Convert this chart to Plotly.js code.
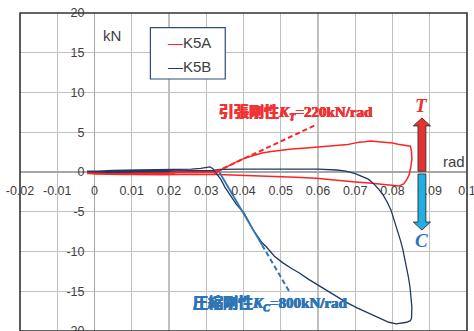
<!DOCTYPE html>
<html>
<head>
<meta charset="utf-8">
<script src="https://cdn.plot.ly/plotly-3.0.1.min.js"></script>
<style>
  html, body { margin: 0; padding: 0; background: #fff; }
  #chart { width: 474px; height: 331px; }
</style>
</head>
<body>
<div id="chart"></div>
<script>
// Rotation (rad) vs. axial force (kN), specimen K5A
const xK5A = [-0.002, 0.004, 0.010, 0.0105, 0.005, 0.000, -0.002,
  0.008, 0.015, 0.021, 0.0215, 0.015, 0.008, 0.000, -0.0015,
  0.008, 0.016, 0.024, 0.030, 0.0325, 0.0322, 0.026, 0.018, 0.010, 0.002, 0.010, 0.020, 0.028, 0.033,
  0.0345, 0.036, 0.0375, 0.039, 0.041, 0.043, 0.045, 0.047, 0.050, 0.053, 0.056, 0.059, 0.062, 0.0645,
  0.066, 0.068, 0.0695, 0.071, 0.0725, 0.074, 0.0755, 0.077, 0.0785, 0.080, 0.0815, 0.083, 0.0843,
  0.0848, 0.0851, 0.0852, 0.0849, 0.0845, 0.0838, 0.083, 0.0818,
  0.080, 0.0765, 0.073, 0.070, 0.066, 0.0595, 0.054, 0.048, 0.043, 0.039, 0.0355, 0.033,
  0.026, 0.018, 0.010, 0.003, -0.002];
const yK5A = [-0.1, -0.05, 0.0, -0.2, -0.2, -0.25, -0.2,
  -0.05, 0.0, 0.05, -0.25, -0.3, -0.3, -0.25, -0.15,
  -0.05, 0.0, 0.05, 0.1, 0.05, -0.25, -0.3, -0.35, -0.3, -0.25, -0.15, -0.1, -0.05, 0.0,
  0.4, 0.8, 1.15, 1.5, 1.85, 2.15, 2.4, 2.55, 2.75, 2.9, 3.0, 3.1, 3.2, 3.25,
  3.35, 3.45, 3.6, 3.75, 3.8, 3.9, 3.85, 3.8, 3.7, 3.65, 3.5, 3.4, 3.3,
  3.25, 2.6, 1.6, 0.6, -0.3, -1.0, -1.5, -1.75,
  -1.65, -1.5, -1.35, -1.25, -1.05, -0.8, -0.65, -0.55, -0.45, -0.4, -0.35, -0.3,
  -0.3, -0.3, -0.3, -0.25, -0.2];

// Rotation (rad) vs. axial force (kN), specimen K5B
const xK5B = [-0.002, 0.004, 0.0095, 0.0100, 0.004, -0.001,
  0.006, 0.012, 0.019, 0.0215, 0.020, 0.012, 0.004, -0.002,
  0.005, 0.012, 0.020, 0.026, 0.0285, 0.0300, 0.0310, 0.0318, 0.0325,
  0.034, 0.035, 0.0365, 0.038, 0.0402, 0.0425, 0.0448, 0.0461, 0.0483, 0.0505,
  0.0528, 0.055, 0.0575, 0.0603, 0.063, 0.0655, 0.0676, 0.0705, 0.0737, 0.0765,
  0.079, 0.081, 0.0825, 0.0838, 0.0848, 0.0851,
  0.0852, 0.0850, 0.0847, 0.0843, 0.0838, 0.0833, 0.0828, 0.0822, 0.0815, 0.081,
  0.0803, 0.0796, 0.0786, 0.0775, 0.0762, 0.0748, 0.0735, 0.072, 0.070, 0.0675,
  0.065, 0.060, 0.055, 0.050, 0.045, 0.040, 0.036, 0.0335, 0.032, 0.026,
  0.018, 0.010, 0.003, -0.002];
const yK5B = [0.1, 0.1, 0.2, -0.05, -0.05, 0.05,
  0.15, 0.2, 0.3, 0.3, 0.05, 0.0, 0.0, 0.05,
  0.2, 0.25, 0.3, 0.35, 0.45, 0.6, 0.65, 0.4, 0.0,
  -1.0, -1.9, -3.0, -4.0, -5.2, -7.2, -8.8, -9.4, -10.6, -11.4,
  -12.1, -12.7, -13.5, -14.3, -15.0, -15.8, -16.4, -17.1, -17.8, -18.4,
  -18.9, -19.1, -19.0, -18.9, -18.7, -18.4,
  -17.0, -15.5, -14.5, -13.3, -12.0, -10.8, -9.8, -8.7, -7.6, -6.7,
  -5.7, -4.8, -3.8, -2.9, -2.1, -1.4, -0.9, -0.6, -0.2, 0.1,
  0.25, 0.35, 0.38, 0.38, 0.37, 0.36, 0.35, 0.33, 0.2, 0.15,
  0.1, 0.05, 0.05, 0.05];

// Initial stiffness lines (kN/rad) and their extents (rad)
const kTension = 220;
const kCompression = 800;
const tensionLine = { x0: 0.0325, x1: 0.059 };
const compressionLine = { x0: 0.0335, xSolid: 0.045, x1: 0.0525 };

// Axis ticks
const xTickVals = [-0.02, -0.01, 0, 0.01, 0.02, 0.03, 0.04, 0.05, 0.06, 0.07, 0.08, 0.09, 0.1];
const xTickText = ['-0.02', '-0.01', '0', '0.01', '0.02', '0.03', '0.04', '0.05', '0.06', '0.07', '0.08', '0.09', '0.1'];
const yTickVals = [-20, -15, -10, -5, 0, 5, 10, 15, 20];
const yTickText = ['-20', '-15', '-10', '-5', '0', '5', '10', '15', '20'];

const RED = '#ff2424';
const NAVY = '#1f3864';
const BLUE = '#2e75b6';
const TEXT = '#404040';
const LABEL_RED = '#f03232';

const lineThrough = (k, x0, xs) => xs.map(x => k * (x - x0));

const traces = [
  { name: 'K5A', x: xK5A, y: yK5A, mode: 'lines', line: { color: RED, width: 1.5 } },
  { name: 'K5B', x: xK5B, y: yK5B, mode: 'lines', line: { color: NAVY, width: 1.3 } },
  { name: 'K_T', x: [tensionLine.x0, tensionLine.x1],
    y: lineThrough(kTension, tensionLine.x0, [tensionLine.x0, tensionLine.x1]),
    mode: 'lines', line: { color: RED, width: 2, dash: '5px,3px' } },
  { name: 'K_C solid', x: [compressionLine.x0, compressionLine.xSolid],
    y: lineThrough(-kCompression, compressionLine.x0, [compressionLine.x0, compressionLine.xSolid]),
    mode: 'lines', line: { color: BLUE, width: 1.8 } },
  { name: 'K_C', x: [compressionLine.xSolid, compressionLine.x1],
    y: lineThrough(-kCompression, compressionLine.x0, [compressionLine.xSolid, compressionLine.x1]),
    mode: 'lines', line: { color: BLUE, width: 2, dash: '5px,3px' } }
];

// Tension / compression direction arrows
const arrowX = 0.0879, shaftHalf = 0.00105, headHalf = 0.0023;
function arrowPath(yStart, yHead, yTip) {
  return `M${arrowX - shaftHalf},${yStart} L${arrowX - shaftHalf},${yHead} L${arrowX - headHalf},${yHead} ` +
         `L${arrowX},${yTip} L${arrowX + headHalf},${yHead} L${arrowX + shaftHalf},${yHead} L${arrowX + shaftHalf},${yStart} Z`;
}

const legendBox = { x0: 0.0150, x1: 0.0351, y0: 11.7, y1: 18.15 };
const legendItems = [
  { label: 'K5A', color: RED, y: 16.35 },
  { label: 'K5B', color: NAVY, y: 13.3 }
];

const shapes = [
  { type: 'path', xref: 'x', yref: 'y', path: arrowPath(0.1, 5.8, 6.8),
    fillcolor: '#e8312f', line: { color: '#3a3a3a', width: 1 } },
  { type: 'path', xref: 'x', yref: 'y', path: arrowPath(-0.25, -6.3, -7.3),
    fillcolor: '#1fb0e6', line: { color: '#3a3a3a', width: 1 } },
  { type: 'rect', xref: 'x', yref: 'y', x0: legendBox.x0, x1: legendBox.x1, y0: legendBox.y0, y1: legendBox.y1,
    fillcolor: '#ffffff', line: { color: '#2f4b7c', width: 1.2 } },
  { type: 'rect', xref: 'paper', yref: 'paper', x0: 0, x1: 1, y0: 0, y1: 1,
    line: { color: '#333333', width: 1.6 }, layer: 'above' }
];

const serifCJK = '"Liberation Serif", "Noto Sans CJK JP", serif';
const sans = '"Liberation Sans", Arial, sans-serif';
// heavier strokes for the stiffness labels
const heavy = c => `0.5px 0 0 ${c}, -0.4px 0 0 ${c}, 0 0.4px 0 ${c}`;

const annotations = [
  { x: 0.0048, y: 17.2, xref: 'x', yref: 'y', text: 'kN', showarrow: false, xanchor: 'center',
    font: { family: sans, size: 15, color: TEXT } },
  { x: 0.0965, y: 1.3, xref: 'x', yref: 'y', text: 'rad', showarrow: false, xanchor: 'center',
    font: { family: sans, size: 15, color: TEXT } },
  { x: 0.0540, y: 7.4, xref: 'x', yref: 'y', showarrow: false, xanchor: 'center',
    text: '引張剛性<i>K<sub>T</sub></i>=220kN/rad',
    font: { family: serifCJK, size: 15, color: LABEL_RED, weight: 700, shadow: heavy(LABEL_RED) } },
  { x: 0.0472, y: -16.6, xref: 'x', yref: 'y', showarrow: false, xanchor: 'center',
    text: '圧縮剛性<i>K<sub>C</sub></i>=800kN/rad',
    font: { family: serifCJK, size: 15, color: BLUE, weight: 700, shadow: heavy(BLUE) } },
  { x: arrowX, y: 8.4, xref: 'x', yref: 'y', showarrow: false, xanchor: 'center',
    text: '<i>T</i>', font: { family: serifCJK, size: 19, color: '#e8312f', weight: 700 } },
  { x: arrowX, y: -8.6, xref: 'x', yref: 'y', showarrow: false, xanchor: 'center',
    text: '<i>C</i>', font: { family: serifCJK, size: 19, color: BLUE, weight: 700 } }
].concat(legendItems.map(it => ({
  x: 0.0191, y: it.y, xref: 'x', yref: 'y', showarrow: false, xanchor: 'left',
  text: `<span style="color:${it.color}">—</span>${it.label}`,
  font: { family: sans, size: 15, color: TEXT }
})));

const axisCommon = {
  showgrid: true, gridcolor: '#bfbfbf', gridwidth: 1.2,
  zeroline: true, zerolinecolor: '#a6a6a6', zerolinewidth: 1.6,
  showline: false, ticks: '', tickmode: 'array',
  tickfont: { family: sans, size: 12.5, color: TEXT },
  ticklabeloverflow: 'allow', anchor: 'free', fixedrange: true
};

const layout = {
  width: 474, height: 331,
  margin: { l: 20, r: 7, t: 13, b: 0, pad: 0 },
  paper_bgcolor: '#ffffff', plot_bgcolor: '#ffffff',
  showlegend: false,
  xaxis: Object.assign({}, axisCommon, {
    range: [-0.02, 0.1], tickvals: xTickVals, ticktext: xTickText,
    position: 0.5, ticklabelstandoff: 9
  }),
  yaxis: Object.assign({}, axisCommon, {
    range: [-20, 20], tickvals: yTickVals, ticktext: yTickText,
    position: 1 / 6, ticklabelstandoff: 10
  }),
  shapes: shapes,
  annotations: annotations
};

Plotly.newPlot('chart', traces, layout, { staticPlot: true, displayModeBar: false });
</script>
</body>
</html>
